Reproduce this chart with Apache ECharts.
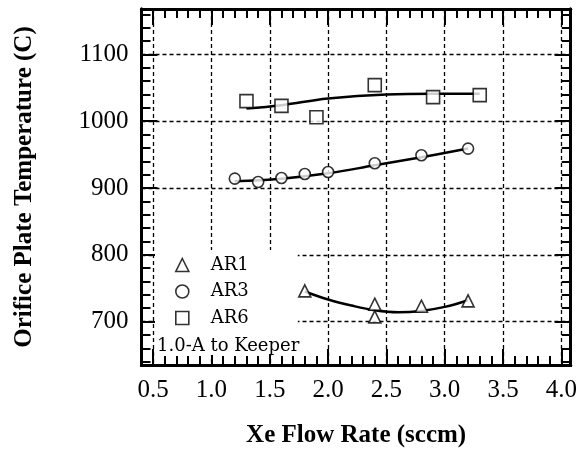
<!DOCTYPE html>
<html>
<head>
<meta charset="utf-8">
<script src="https://cdn.jsdelivr.net/npm/echarts@6/dist/echarts.min.js"></script>
<style>html,body{margin:0;padding:0;background:#fff}#c{width:580px;height:463px}</style>
</head>
<body>
<div id="c"></div>
<script>
// ---- data ----
var ar1X = [1.8, 2.4, 2.4, 2.8, 3.2];
var ar1Y = [746, 726, 707, 723, 731];
var ar3X = [1.2, 1.4, 1.6, 1.8, 2.0, 2.4, 2.8, 3.2];
var ar3Y = [914, 909, 915, 921, 924, 937, 949, 959];
var ar6X = [1.3, 1.6, 1.9, 2.4, 2.9, 3.3];
var ar6Y = [1030, 1023, 1006, 1054, 1036, 1039];
// fitted curves
var fit1X = [1.8, 2.0, 2.2, 2.4, 2.6, 2.8, 3.0, 3.2];
var fit1Y = [745, 733, 724, 717, 714, 716, 722, 732];
var fit3X = [1.2, 1.6, 2.0, 2.4, 2.8, 3.2];
var fit3Y = [910, 914, 922, 934, 946, 959];
var fit6X = [1.3, 1.6, 2.0, 2.5, 2.9, 3.3];
var fit6Y = [1019, 1024, 1034, 1040, 1041, 1041];
// ticks
var xMajor = [0.5, 1.0, 1.5, 2.0, 2.5, 3.0, 3.5, 4.0];
var xMinor = [0.4,0.6,0.7,0.8,0.9,1.1,1.2,1.3,1.4,1.6,1.7,1.8,1.9,2.1,2.2,2.3,2.4,2.6,2.7,2.8,2.9,3.1,3.2,3.3,3.4,3.6,3.7,3.8,3.9];
var yMajor = [700, 800, 900, 1000, 1100];
var yMinor = [640,660,680,720,740,760,780,820,840,860,880,920,940,960,980,1020,1040,1060,1080,1120,1140,1160];
var seriesNames = ['AR1', 'AR3', 'AR6'];
var noteText = '1.0-A to Keeper';
var xTitle = 'Xe Flow Rate (sccm)';
var yTitle = 'Orifice Plate Temperature (C)';

function zip(a, b) { return a.map(function (v, i) { return [v, b[i]]; }); }

var XMIN = 0.4, XMAX = 4.08, YMIN = 635, YMAX = 1168;
var serif = 'Liberation Serif';
var gridLine = { show: true, lineStyle: { color: '#000', type: [4, 3], width: 1.3 } };

function xAx(pos, custom, len, main) {
  return {
    type: 'value', position: pos, min: XMIN, max: XMAX,
    axisLine: { show: true, lineStyle: { color: '#000', width: 3 } },
    axisTick: { show: true, inside: true, length: len, customValues: custom, lineStyle: { color: '#000', width: 2 } },
    axisLabel: (pos === 'bottom' && main) ? { show: true, customValues: xMajor, formatter: function (v) { return v.toFixed(1); }, fontFamily: serif, fontSize: 25, color: '#000', margin: 13 } : { show: false },
    splitLine: (pos === 'bottom' && main) ? gridLine : { show: false },
    name: (pos === 'bottom' && main) ? xTitle : '',
    nameLocation: 'middle', nameGap: 58,
    nameTextStyle: { fontFamily: serif, fontWeight: 'bold', fontSize: 25, color: '#000' }
  };
}
function yAx(pos, custom, len, main) {
  return {
    type: 'value', position: pos, min: YMIN, max: YMAX,
    axisLine: { show: true, lineStyle: { color: '#000', width: 3 } },
    axisTick: { show: true, inside: true, length: len, customValues: custom, lineStyle: { color: '#000', width: 2 } },
    axisLabel: (pos === 'left' && main) ? { show: true, customValues: yMajor, formatter: function (v) { return String(v); }, fontFamily: serif, fontSize: 25, color: '#000', margin: 13 } : { show: false },
    splitLine: (pos === 'left' && main) ? gridLine : { show: false },
    name: (pos === 'left' && main) ? yTitle : '',
    nameLocation: 'middle', nameGap: 104,
    nameTextStyle: { fontFamily: serif, fontWeight: 'bold', fontSize: 25, color: '#000' }
  };
}

var hollow = { color: '#fff', borderColor: '#000', borderWidth: 1.6 };
var chart = echarts.init(document.getElementById('c'), null, { renderer: 'canvas' });
chart.setOption({
  animation: false,
  backgroundColor: '#fff',
  grid: { left: 141.5, top: 9, width: 430, height: 356 },
  xAxis: [xAx('bottom', xMajor, 16, true), xAx('bottom', xMinor, 9, false), xAx('top', xMajor, 16, true), xAx('top', xMinor, 9, false)],
  yAxis: [yAx('left', yMajor, 16, true), yAx('left', yMinor, 9, false), yAx('right', yMajor, 16, true), yAx('right', yMinor, 9, false)],
  legend: {
    data: seriesNames, orient: 'vertical', left: 155, top: 250,
    padding: [6, 49, 28, 20], backgroundColor: '#fff',
    itemWidth: 13, itemHeight: 13, itemGap: 8.5,
    formatter: function (n) { return '{t|' + n + '}'; },
    textStyle: { rich: { t: { fontFamily: 'DejaVu Serif', fontSize: 18, lineHeight: 18, color: '#000', padding: [0, 0, 0, 17] } } },
    itemStyle: hollow
  },
  title: { text: noteText, left: 157, top: 337, textStyle: { fontFamily: 'DejaVu Serif', fontWeight: 'normal', fontSize: 18, color: '#000' }, padding: 0 },
  series: [
    { name: 'fit1', type: 'line', smooth: 0.4, showSymbol: false, data: zip(fit1X, fit1Y), lineStyle: { color: '#000', width: 2.5 }, z: 3 },
    { name: 'fit3', type: 'line', smooth: 0.4, showSymbol: false, data: zip(fit3X, fit3Y), lineStyle: { color: '#000', width: 2.5 }, z: 3 },
    { name: 'fit6', type: 'line', smooth: 0.4, showSymbol: false, data: zip(fit6X, fit6Y), lineStyle: { color: '#000', width: 2.5 }, z: 3 },
    { name: 'AR1', type: 'scatter', symbol: 'triangle', symbolSize: 12, data: zip(ar1X, ar1Y), itemStyle: hollow, z: 4 },
    { name: 'AR3', type: 'scatter', symbol: 'circle', symbolSize: 11, data: zip(ar3X, ar3Y), itemStyle: hollow, z: 4 },
    { name: 'AR6', type: 'scatter', symbol: 'rect', symbolSize: 13, data: zip(ar6X, ar6Y), itemStyle: hollow, z: 4 }
  ]
});
</script>
</body>
</html>
